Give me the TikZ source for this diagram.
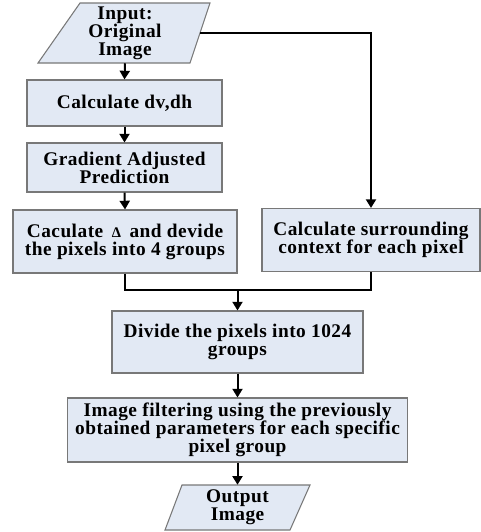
\documentclass[tikz,border=0pt]{standalone}
\usepackage{fontspec}
\setmainfont{Liberation Serif}
\newfontfamily\boxfont[LetterSpace=2.5]{Liberation Serif}
\usetikzlibrary{arrows.meta}
\definecolor{boxfill}{RGB}{226,233,244}
\definecolor{boxline}{RGB}{120,120,120}
\begin{document}
\begin{tikzpicture}[x=0.75pt,y=-0.75pt,
  w/.style={minimum width=#1*0.75pt},
  h/.style={minimum height=#1*0.75pt},
  proc/.style={rectangle,draw=boxline,line width=0.8pt,fill=boxfill,align=center,
    font=\boxfont\fontsize{14.5}{13.5}\selectfont\bfseries,inner sep=0pt},
  iotext/.style={rectangle,inner sep=0pt,align=center,
    font=\boxfont\fontsize{14.5}{13.5}\selectfont\bfseries},
  conn/.style={line width=1.5pt,black},
  arr/.style={conn,-{Triangle[length=6.5pt,width=7.5pt]}}]
\useasboundingbox (0,0) rectangle (481,532);
% input parallelogram
\draw[boxline,line width=0.8pt,fill=boxfill] (80,3)--(210,3)--(190,63)--(38,63)--cycle;
\node[iotext,w=150,h=60] (in) at (125,33) {Input:\\Original\\Image};
% boxes
\node[proc,w=195,h=46] (calc) at (124.5,103) {Calculate dv,dh};
\node[proc,w=195,h=49] (grad) at (124.5,167.5) {Gradient Adjusted\\Prediction};
\node[proc,w=224,h=63] (delta) at (125,241.5) {Caculate \,{\fontsize{11}{11}\selectfont Δ}\, and devide\\the pixels into 4 groups};
\node[proc,w=218,h=63] (surr) at (371,240) {Calculate surrounding\\context for each pixel};
\node[proc,w=251,h=62] (div) at (237.5,342) {Divide the pixels into 1024\\groups};
\node[proc,w=340,h=64] (filt) at (237.5,430) {Image filtering using the previously\\obtained parameters for each specific\\pixel group};
% output parallelogram
\draw[boxline,line width=0.8pt,fill=boxfill] (182,485)--(310,485)--(290,530)--(165,530)--cycle;
\node[iotext,w=120,h=45] (out) at (237.5,507.5) {Output\\Image};
% connectors
\coordinate (m) at (237.5,290);
\draw[arr] (in.south) -- (calc.north);
\draw[arr] (calc.south) -- (grad.north);
\draw[arr] (grad.south) -- (delta.north);
\draw[arr] (in.east) -| (surr.north);
\draw[conn] (delta.south) |- (m);
\draw[conn] (surr.south) |- (m);
\draw[arr] (m) -- (div.north);
\draw[arr] (div.south) -- (filt.north);
\draw[arr] (filt.south) -- (out.north);
\end{tikzpicture}
\end{document}
